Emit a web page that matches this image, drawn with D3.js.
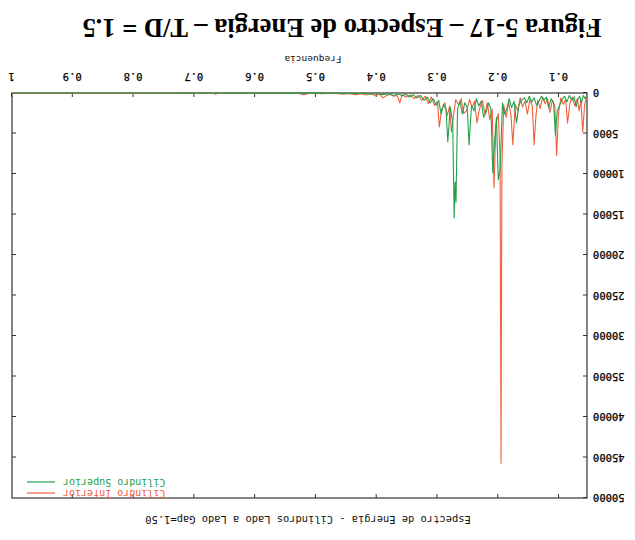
<!DOCTYPE html>
<html>
<head>
<meta charset="utf-8">
<script src="https://cdn.jsdelivr.net/npm/d3@7"></script>
<style>
  body { margin: 0; background: #fff; }
  svg { display: block; }
</style>
</head>
<body>
<div id="chart"></div>
<script>
// Espectro de energia (figura escaneada de cabeca para baixo)
const seriesNames = ['Cilindro Inferior', 'Cilindro Superior'];
const seriesColors = ['#f0603c', '#23a04c'];

const inferiorFreq = [0.054, 0.058, 0.061, 0.064, 0.067, 0.070, 0.074, 0.078, 0.082, 0.086, 0.089, 0.093, 0.097, 0.101, 0.104, 0.107, 0.111, 0.115, 0.119, 0.123, 0.127, 0.131, 0.135, 0.138, 0.141, 0.144, 0.148, 0.152, 0.156, 0.160, 0.164, 0.168, 0.172, 0.176, 0.179, 0.183, 0.187, 0.191, 0.194, 0.1955, 0.197, 0.200, 0.204, 0.207, 0.210, 0.214, 0.218, 0.222, 0.226, 0.231, 0.235, 0.239, 0.243, 0.247, 0.252, 0.257, 0.261, 0.265, 0.270, 0.274, 0.277, 0.280, 0.284, 0.288, 0.293, 0.297, 0.300, 0.305, 0.310, 0.315, 0.320, 0.326, 0.332, 0.338, 0.345, 0.352, 0.358, 0.362, 0.366, 0.372, 0.378, 0.384, 0.390, 0.395, 0.402, 0.410, 0.418, 0.425, 0.435, 0.445, 0.455, 0.47, 0.49, 0.51, 0.52, 0.53, 0.56, 0.60, 0.66, 0.665, 0.67, 0.75, 0.85, 1.0];
const inferiorEnergy = [300, 1500, 4800, 900, 2200, 700, 1600, 500, 1200, 3700, 800, 1400, 600, 2600, 7700, 1500, 900, 2400, 700, 1300, 500, 1900, 900, 2800, 6400, 1600, 800, 2600, 1000, 1700, 600, 2200, 1400, 6400, 2800, 1100, 3000, 1500, 9000, 45700, 8000, 2500, 4000, 11700, 2000, 3300, 1200, 2600, 900, 2000, 3700, 1000, 1800, 800, 2200, 2500, 700, 1500, 800, 3000, 4800, 1600, 2800, 1200, 2000, 4200, 1100, 1500, 500, 1300, 400, 900, 300, 700, 250, 500, 200, 1200, 300, 400, 150, 350, 600, 150, 300, 100, 250, 80, 200, 60, 150, 40, 100, 30, 200, 30, 20, 20, 10, 150, 10, 5, 5, 0];

const superiorFreq = [0.054, 0.057, 0.060, 0.063, 0.066, 0.069, 0.072, 0.075, 0.079, 0.083, 0.087, 0.091, 0.095, 0.099, 0.103, 0.106, 0.109, 0.113, 0.117, 0.121, 0.125, 0.129, 0.133, 0.137, 0.141, 0.145, 0.149, 0.153, 0.157, 0.162, 0.166, 0.170, 0.174, 0.178, 0.182, 0.186, 0.190, 0.193, 0.197, 0.200, 0.203, 0.206, 0.209, 0.212, 0.216, 0.220, 0.224, 0.228, 0.232, 0.236, 0.240, 0.244, 0.248, 0.251, 0.255, 0.259, 0.263, 0.267, 0.2695, 0.271, 0.2725, 0.275, 0.279, 0.283, 0.286, 0.290, 0.294, 0.298, 0.302, 0.307, 0.312, 0.317, 0.322, 0.328, 0.334, 0.340, 0.346, 0.352, 0.358, 0.365, 0.372, 0.380, 0.390, 0.400, 0.41, 0.42, 0.44, 0.46, 0.50, 0.60, 0.80, 1.0];
const superiorEnergy = [200, 700, 300, 1200, 400, 800, 1700, 500, 900, 300, 1100, 400, 800, 1500, 2200, 5200, 1200, 700, 1800, 500, 900, 400, 1000, 1500, 600, 1100, 400, 1200, 600, 900, 1500, 3700, 1000, 1800, 700, 2000, 2600, 1200, 9500, 10700, 3000, 6000, 9800, 2000, 1200, 2400, 3000, 1000, 1600, 700, 2200, 1500, 6400, 1800, 1200, 2600, 1000, 2000, 13500, 11000, 15400, 3500, 1800, 6000, 2000, 1400, 2600, 900, 1500, 700, 1200, 500, 900, 300, 600, 200, 500, 150, 350, 100, 300, 80, 200, 60, 150, 40, 100, 30, 20, 10, 5, 0];

const xTicks = [0.1, 0.2, 0.3, 0.4, 0.5, 0.6, 0.7, 0.8, 0.9, 1];
const yTicks = [0, 5000, 10000, 15000, 20000, 25000, 30000, 35000, 40000, 45000, 50000];

const W = 635, H = 540;
const margin = { top: 42, right: 12, bottom: 93, left: 48 };
const innerW = W - margin.left - margin.right;
const innerH = H - margin.top - margin.bottom;
const mono = "'DejaVu Sans Mono', 'Liberation Mono', monospace";

const svg = d3.select('#chart').append('svg')
  .attr('width', W)
  .attr('height', H);

svg.append('rect').attr('width', W).attr('height', H).attr('fill', '#fff');

// whole page is upside down in the scan
const root = svg.append('g').attr('transform', `rotate(180 ${W / 2} ${H / 2})`);
const g = root.append('g').attr('transform', `translate(${margin.left},${margin.top})`);

const x = d3.scaleLinear().domain([0.054, 1]).range([0, innerW]);
const y = d3.scaleLinear().domain([0, 50000]).range([innerH, 0]);

// axes (ticks pointing inward, gnuplot style)
const xAxis = g.append('g').attr('transform', `translate(0,${innerH})`)
  .call(d3.axisBottom(x).tickValues(xTicks).tickSize(-4).tickPadding(13).tickFormat(d3.format('')));
const xAxisTop = g.append('g')
  .call(d3.axisTop(x).tickValues(xTicks.slice(0, -1)).tickSize(-4).tickFormat(''));
const yAxis = g.append('g')
  .call(d3.axisLeft(y).tickValues(yTicks).tickSize(-4).tickPadding(6).tickFormat(d3.format('d')));
const yAxisRight = g.append('g').attr('transform', `translate(${innerW},0)`)
  .call(d3.axisRight(y).tickValues(yTicks.slice(1, -1)).tickSize(-4).tickFormat(''));

[xAxis, xAxisTop, yAxis, yAxisRight].forEach(a => {
  a.select('.domain').remove();
  a.selectAll('line').attr('stroke', '#333');
  a.selectAll('text').attr('font-family', mono).attr('font-size', 10.5).attr('fill', '#000')
    .attr('stroke', '#000').attr('stroke-width', 0.25);
});

g.append('rect')
  .attr('width', innerW).attr('height', innerH)
  .attr('fill', 'none').attr('stroke', '#333').attr('stroke-width', 1.2);

// series
const line = d3.line().x(d => x(d[0])).y(d => y(d[1]));
const series = [
  d3.zip(inferiorFreq, inferiorEnergy),
  d3.zip(superiorFreq, superiorEnergy)
];
series.forEach((s, i) => {
  g.append('path')
    .datum(s)
    .attr('d', line)
    .attr('fill', 'none')
    .attr('stroke', seriesColors[i])
    .attr('stroke-width', 1.1)
    .attr('stroke-linejoin', 'round');
});

// legend
seriesNames.forEach((name, i) => {
  const ly = 5 + i * 11;
  g.append('text')
    .attr('x', innerW - 51).attr('y', ly + 3.5)
    .attr('text-anchor', 'end')
    .attr('font-family', mono).attr('font-size', 10)
    .attr('fill', seriesColors[i])
    .text(name);
  g.append('line')
    .attr('x1', innerW - 43).attr('x2', innerW - 15)
    .attr('y1', ly).attr('y2', ly)
    .attr('stroke', seriesColors[i]).attr('stroke-width', 1.2);
});

// titles
root.append('text')
  .attr('x', 327).attr('y', 24)
  .attr('text-anchor', 'middle')
  .attr('font-family', mono).attr('font-size', 10.4).attr('fill', '#111')
  .text('Espectro de Energia - Cilindros Lado a Lado Gap=1.50');

root.append('text')
  .attr('x', 322).attr('y', 484)
  .attr('text-anchor', 'middle')
  .attr('font-family', mono).attr('font-size', 9.5).attr('fill', '#111')
  .text('Frequencia');

root.append('text')
  .attr('x', 293).attr('y', 521)
  .attr('text-anchor', 'middle')
  .attr('font-family', "'Liberation Serif', 'DejaVu Serif', serif")
  .attr('font-weight', 'bold').attr('font-size', 26.5).attr('fill', '#000')
  .text('Figura 5-17 – Espectro de Energia – T/D = 1.5');
</script>
</body>
</html>
